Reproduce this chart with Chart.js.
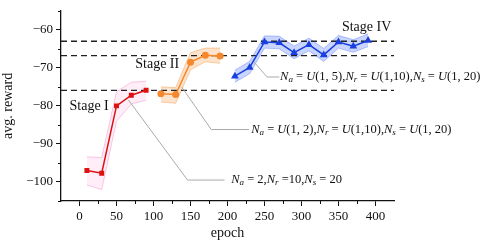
<!DOCTYPE html>
<html>
<head>
<meta charset="utf-8">
<script src="https://cdn.jsdelivr.net/npm/chart.js@4.4.1/dist/chart.umd.min.js"></script>
<style>
  html, body { margin: 0; padding: 0; background: #fff; }
  #wrap { width: 485px; height: 246px; }
</style>
</head>
<body>
<div id="wrap"><canvas id="rewardChart"></canvas></div>
<script>
// Stage I
const epochsI = [10, 30, 50, 70, 90];
const rewardI = [-97, -97.7, -80, -77.2, -75.9];
const upperI = [-93.4, -93.6, -76.3, -73.8, -73.5];
const lowerI = [-100.8, -102, -84, -79.5, -78.5];

// Stage II
const epochsII = [110, 130, 150, 170, 190];
const rewardII = [-76.8, -77, -68.5, -66.7, -66.9];
const upperII = [-75, -75.2, -66, -64.8, -64.8];
const lowerII = [-79, -79.3, -70.5, -68.4, -68.8];

// Stage IV
const epochsIV = [210, 230, 250, 270, 290, 310, 330, 350, 370, 390];
const rewardIV = [-72.2, -69.9, -63.2, -63.4, -66, -63.9, -66.6, -63.2, -64.3, -62.8];
const upperIV = [-70.6, -68.3, -61.6, -61.7, -64.3, -62.2, -64.9, -61.5, -62.6, -61.1];
const lowerIV = [-73.8, -71.5, -64.8, -65, -67.6, -65.5, -68.3, -64.8, -65.9, -64.4];

// dashed reference levels
const refLevels = [-63, -66.8, -75.9];

// axis ticks
const xTicks = [0, 50, 100, 150, 200, 250, 300, 350, 400];
const xMinorTicks = [25, 75, 125, 175, 225, 275, 325, 375];
const yTicks = [-100, -90, -80, -70, -60];
const yMinorTicks = [-105, -95, -85, -75, -65, -55];

const SERIF = "'Liberation Serif', 'Times New Roman', serif";

const pts = (xs, ys) => xs.map((x, i) => ({ x: x, y: ys[i] }));

function band(xs, hi, lo, fill, edge) {
    return [
        { data: pts(xs, hi), borderColor: edge, borderWidth: 0.8, backgroundColor: fill,
          fill: '+1', pointRadius: 0, order: 5 },
        { data: pts(xs, lo), borderColor: edge, borderWidth: 0.8, fill: false,
          pointRadius: 0, order: 5 }
    ];
}

function line(xs, ys, color, style, r) {
    return { data: pts(xs, ys), borderColor: color, backgroundColor: color, borderWidth: 1.5,
             pointStyle: style, pointRadius: r, pointBorderWidth: 0, fill: false, order: 0 };
}

const xMin = -25, xMax = 425;
const refSets = refLevels.map(v => ({
    data: [{ x: xMin, y: v }, { x: xMax, y: v }], borderColor: '#222', borderWidth: 1.3,
    borderDash: [6, 4], pointRadius: 0, fill: false, order: 1
}));

// annotation text / leader lines (data coordinates)
const notes = {
    stages: [
        { text: 'Stage I', x: 13, y: -80 },
        { text: 'Stage II', x: 105, y: -69.2 },
        { text: 'Stage IV', x: 388, y: -59.3 }
    ],
    leaders: [
        { path: [[66, -78.4], [146, -99.5], [196, -99.5]], tx: 205,
          parts: [['N', 'i'], ['a', 's'], [' = 2,'], ['N', 'i'], ['r', 's'], [' =10,'], ['N', 'i'], ['s', 's'], [' = 20']] },
        { path: [[138, -75], [178, -86.2], [229, -86.2]], tx: 232,
          parts: [['N', 'i'], ['a', 's'], [' = '], ['U', 'i'], ['(1, 2),'], ['N', 'i'], ['r', 's'], [' = '], ['U', 'i'], ['(1,10),'], ['N', 'i'], ['s', 's'], [' = '], ['U', 'i'], ['(1, 20)']] },
        { path: [[236, -68.5], [253.5, -72.4], [270, -72.4]], tx: 271,
          parts: [['N', 'i'], ['a', 's'], [' = '], ['U', 'i'], ['(1, 5),'], ['N', 'i'], ['r', 's'], [' = '], ['U', 'i'], ['(1,10),'], ['N', 'i'], ['s', 's'], [' = '], ['U', 'i'], ['(1, 20)']] }
    ]
};

const annotatePlugin = {
    id: 'annotate',
    afterDraw(chart) {
        const c = chart.ctx, xs = chart.scales.x, ys = chart.scales.y;
        c.save();
        // minor ticks
        c.strokeStyle = '#111';
        c.lineWidth = 1;
        const bottom = chart.chartArea.bottom, left = chart.chartArea.left;
        xMinorTicks.forEach(v => {
            const px = Math.round(xs.getPixelForValue(v)) + 0.5;
            c.beginPath(); c.moveTo(px, bottom); c.lineTo(px, bottom + 3); c.stroke();
        });
        yMinorTicks.forEach(v => {
            const py = Math.round(ys.getPixelForValue(v)) + 0.5;
            c.beginPath(); c.moveTo(left, py); c.lineTo(left - 3, py); c.stroke();
        });

        // stage labels
        c.fillStyle = '#111';
        c.font = '14px ' + SERIF;
        c.textAlign = 'center';
        c.textBaseline = 'middle';
        notes.stages.forEach(s => {
            c.fillText(s.text, xs.getPixelForValue(s.x), ys.getPixelForValue(s.y));
        });

        // leader lines + formulas
        c.textAlign = 'left';
        notes.leaders.forEach(n => {
            c.strokeStyle = '#aaa';
            c.lineWidth = 1;
            c.beginPath();
            n.path.forEach((p, i) => {
                const px = xs.getPixelForValue(p[0]), py = ys.getPixelForValue(p[1]);
                if (i === 0) c.moveTo(px, py); else c.lineTo(px, py);
            });
            c.stroke();
            let px = xs.getPixelForValue(n.tx);
            const py = ys.getPixelForValue(n.path[n.path.length - 1][1]);
            n.parts.forEach(([t, kind]) => {
                if (kind === 's') {
                    c.font = 'italic 9px ' + SERIF;
                    c.fillText(t, px, py + 3);
                } else {
                    c.font = (kind === 'i' ? 'italic ' : '') + '12.5px ' + SERIF;
                    c.fillText(t, px, py);
                }
                px += c.measureText(t).width;
            });
        });
        c.restore();
    }
};

const ctx = document.getElementById('rewardChart').getContext('2d');

const chart = new Chart(ctx, {
    type: 'line',
    data: {
        datasets: [
            ...band(epochsI, upperI, lowerI, 'rgba(255, 170, 215, 0.2)', 'rgba(240, 140, 200, 0.6)'),
            ...band(epochsII, upperII, lowerII, 'rgba(250, 175, 110, 0.35)', 'rgba(245, 150, 70, 0.6)'),
            ...band(epochsIV, upperIV, lowerIV, 'rgba(120, 150, 255, 0.4)', 'rgba(90, 125, 255, 0.6)'),
            ...refSets,
            line(epochsI, rewardI, '#dd1111', 'rect', 3.5),
            line(epochsII, rewardII, '#f5882c', 'circle', 3.5),
            line(epochsIV, rewardIV, '#1a3fdc', 'triangle', 4.5)
        ]
    },
    options: {
        responsive: true,
        maintainAspectRatio: false,
        animation: false,
        layout: { padding: { left: 0, right: 91, top: 7, bottom: 0 } },
        plugins: {
            legend: { display: false },
            tooltip: { enabled: false }
        },
        scales: {
            x: {
                type: 'linear',
                min: xMin,
                max: xMax,
                afterBuildTicks: s => { s.ticks = xTicks.map(v => ({ value: v })); },
                afterFit: s => { s.height = 45; },
                border: { display: true, color: '#111', width: 1.3 },
                grid: { drawOnChartArea: false, drawTicks: true, tickLength: 5, color: '#111' },
                ticks: { color: '#111', padding: 3, font: { family: SERIF, size: 13 } },
                title: { display: true, text: 'epoch', color: '#111', padding: { top: 0, bottom: 4 },
                         font: { family: SERIF, size: 14 } }
            },
            y: {
                min: -105,
                max: -55,
                afterBuildTicks: s => { s.ticks = yTicks.map(v => ({ value: v })); },
                afterFit: s => { s.width = 61; },
                border: { display: true, color: '#111', width: 1.3 },
                grid: { drawOnChartArea: false, drawTicks: true, tickLength: 5, color: '#111' },
                ticks: { color: '#111', padding: 3, font: { family: SERIF, size: 13 },
                         callback: v => String(v).replace('-', '\u2212') },
                title: { display: true, text: 'avg. reward', color: '#111', padding: { top: 0, bottom: 2 },
                         font: { family: SERIF, size: 14 } }
            }
        }
    },
    plugins: [annotatePlugin]
});
</script>
</body>
</html>
